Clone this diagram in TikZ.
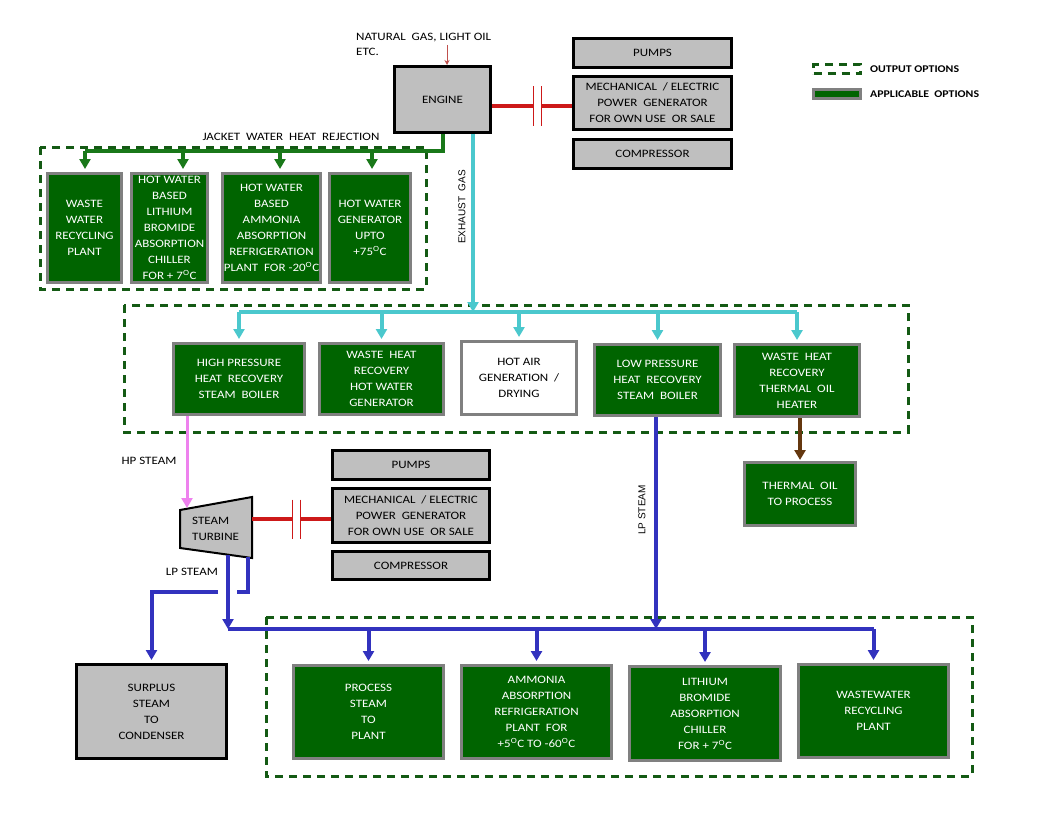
\documentclass[tikz,border=0pt]{standalone}
\usepackage{fontspec}
\setmainfont{Carlito}[FakeStretch=1.15]
\newfontfamily\arialfont{Liberation Sans}
\usetikzlibrary{arrows.meta}

\definecolor{boxgreen}{RGB}{0,100,0}
\definecolor{rimgray}{RGB}{128,128,128}
\definecolor{fillgray}{RGB}{191,191,191}
\definecolor{optgreen}{RGB}{20,90,20}
\definecolor{jwgreen}{RGB}{25,120,25}
\definecolor{exhcyan}{RGB}{75,200,205}
\definecolor{lpblue}{RGB}{50,50,190}
\definecolor{hpviolet}{RGB}{238,130,238}
\definecolor{oilbrown}{RGB}{100,55,15}
\definecolor{shaftred}{RGB}{205,25,25}
\definecolor{fuelred}{RGB}{192,80,77}

\begin{document}
\begin{tikzpicture}[x=1pt,y=-1pt,
    font=\fontsize{11.3}{16}\selectfont,
    tip/.style={-{Triangle[length=10pt,width=11pt]}},
    opt/.style={draw=optgreen,line width=3pt,dash pattern=on 8pt off 6pt},
    jwline/.style={draw=jwgreen,line width=4pt},
    exline/.style={draw=exhcyan,line width=4pt},
    lpline/.style={draw=lpblue,line width=4pt},
    hpline/.style={draw=hpviolet,line width=3pt},
    oilline/.style={draw=oilbrown,line width=4pt},
    shaft/.style={draw=shaftred,line width=4pt},
    cplg/.style={draw=shaftred,line width=1pt}]

  \useasboundingbox (0,0) rectangle (1056,816);

  % output option frames
  \draw[opt] (40,147) rectangle (426,289);
  \draw[opt] (124,305) rectangle (908,432);
  \draw[opt] (266,617) rectangle (972,776);

  \begin{scope}[every node/.style={draw=black,line width=3pt,fill=fillgray,align=center,inner sep=0pt}]
    \node (engine) [minimum width=96pt,minimum height=66pt] at (442.5,99.5) {ENGINE};
    \node (pumps1) [minimum width=158pt,minimum height=29pt] at (652.5,53) {PUMPS};
    \node (mech1) [minimum width=158pt,minimum height=53pt] at (652.5,103) {MECHANICAL\ \ / ELECTRIC\\POWER\ \ GENERATOR\\FOR OWN USE\ \ OR SALE};
    \node (comp1) [minimum width=158pt,minimum height=29pt] at (652.5,154) {COMPRESSOR};
    \node (pumps2) [minimum width=157pt,minimum height=29pt] at (411,465) {PUMPS};
    \node (mech2) [minimum width=157pt,minimum height=54pt] at (411,515.5) {MECHANICAL\ \ / ELECTRIC\\POWER\ \ GENERATOR\\FOR OWN USE\ \ OR SALE};
    \node (comp2) [minimum width=157pt,minimum height=28pt] at (411,565.5) {COMPRESSOR};
    \node (surplus) [minimum width=150pt,minimum height=94pt] at (151.5,711.5) {SURPLUS\\STEAM\\TO\\CONDENSER};
  \end{scope}

  \begin{scope}[every node/.style={draw=rimgray,line width=3pt,fill=boxgreen,text=white,align=center,inner sep=0pt}]
    % jacket water users
    \node (j1) [minimum width=74pt,minimum height=109pt] at (84.5,228) {WASTE\\WATER\\RECYCLING\\PLANT};
    \node (j2) [minimum width=76pt,minimum height=109pt] at (169.5,228) {HOT WATER\\BASED\\LITHIUM\\BROMIDE\\ABSORPTION\\CHILLER\\FOR + 7\textsuperscript{O}C};
    \node (j3) [minimum width=98pt,minimum height=109pt] at (271.5,228) {HOT WATER\\BASED\\AMMONIA\\ABSORPTION\\REFRIGERATION\\PLANT\ \ FOR -20\textsuperscript{O}C};
    \node (j4) [minimum width=81pt,minimum height=109pt] at (370,228) {HOT WATER\\GENERATOR\\UPTO\\+75\textsuperscript{O}C};
    % exhaust gas users
    \node (hp) [minimum width=131pt,minimum height=71pt] at (239,379) {HIGH PRESSURE\\HEAT\ \ RECOVERY\\STEAM\ \ BOILER};
    \node (whw) [minimum width=124pt,minimum height=71pt] at (381.5,379) {WASTE\ \ HEAT\\RECOVERY\\HOT WATER\\GENERATOR};
    \node (hotair) [minimum width=115pt,minimum height=73pt,fill=white,text=black] at (519,378) {HOT AIR\\GENERATION\ \ /\\DRYING};
    \node (lp) [minimum width=126pt,minimum height=71pt] at (657.5,380) {LOW PRESSURE\\HEAT\ \ RECOVERY\\STEAM\ \ BOILER};
    \node (toh) [minimum width=125pt,minimum height=72pt] at (797,380.5) {WASTE\ \ HEAT\\RECOVERY\\THERMAL\ \ OIL\\HEATER};
    \node (top) [minimum width=111pt,minimum height=63pt] at (800,494) {THERMAL\ \ OIL\\TO PROCESS};
    % lp steam users
    \node (process) [minimum width=150pt,minimum height=93pt] at (368.5,712) {PROCESS\\STEAM\\TO\\PLANT};
    \node (ammonia) [minimum width=150pt,minimum height=93pt] at (536.5,712) {AMMONIA\\ABSORPTION\\REFRIGERATION\\PLANT\ \ FOR\\+5\textsuperscript{O}C TO -60\textsuperscript{O}C};
    \node (libr) [minimum width=151pt,minimum height=94pt] at (705,713.5) {LITHIUM\\BROMIDE\\ABSORPTION\\CHILLER\\FOR + 7\textsuperscript{O}C};
    \node (wwr) [minimum width=150pt,minimum height=93pt] at (873.5,711) {WASTEWATER\\RECYCLING\\PLANT};
  \end{scope}

  % legend
  \node (keyout) [opt,minimum width=47pt,minimum height=9pt,inner sep=0pt] at (837,69) {};
  \node (keyapp) [draw=rimgray,line width=3pt,fill=boxgreen,minimum width=47pt,minimum height=9pt,inner sep=0pt] at (837,94) {};
  \node (keyoutlbl) [anchor=west,inner sep=0pt,font=\fontsize{10.3}{12}\selectfont\bfseries] at (870,69) {OUTPUT OPTIONS};
  \node (keyapplbl) [anchor=west,inner sep=0pt,font=\fontsize{10.3}{12}\selectfont\bfseries] at (870,94) {APPLICABLE\ \ OPTIONS};

  % steam turbine
  \draw[draw=black,line width=2pt,fill=fillgray] (180,510) -- (252,497) -- (252,558) -- (180,548) -- cycle;
  \node (turbine) [anchor=west,align=left,inner sep=0pt] at (192,529) {STEAM\\TURBINE};

  \coordinate (fuel) at (447,45);
  \coordinate (jw) at (443,151);
  \coordinate (eg) at (473,312);
  \coordinate (lpb) at (656,629);
  \coordinate (tin) at (187,508);
  \coordinate (tout) at (252,519);
  \coordinate (lpt1) at (228,555);
  \coordinate (lpt2) at (248,557);
  \coordinate (jmpR) at (237,592);
  \coordinate (jmpL) at (218,592);
  \coordinate (cpa) at (533,106);
  \coordinate (cpb) at (541,106);
  \coordinate (cpc) at (292,519);
  \coordinate (cpd) at (300,519);

  % labels
  \node (fuellbl) [anchor=west,align=left,inner sep=0pt,font=\fontsize{11.3}{15}\selectfont] at (356,44.5) {NATURAL\ \ GAS, LIGHT OIL\\ETC.};
  \node (jwlbl) [inner sep=0pt] at (291,137) {JACKET\ \ WATER\ \ HEAT\ \ REJECTION};
  \node (eglbl) [inner sep=0pt,rotate=90,font=\arialfont\fontsize{10}{12}\selectfont] at (462,207) {EXHAUST\ \ GAS};
  \node (hplbl) [inner sep=0pt] at (149,461) {HP STEAM};
  \node (lplbl1) [inner sep=0pt] at (192,572) {LP STEAM};
  \node (lplbl2) [inner sep=0pt,rotate=90,font=\arialfont\fontsize{10}{12}\selectfont] at (642,510) {LP STEAM};

  % fuel in
  \draw[draw=fuelred,line width=1pt,-{Stealth[length=5pt,width=5pt]}] (fuel) -- (engine.north -| fuel);

  % jacket water
  \draw[jwline] (engine.south -| jw) -- (jw) -- (85,151);
  \foreach \b/\x in {j1/85,j2/183,j3/280,j4/372} {
    \coordinate (jd) at (\x,151);
    \draw[jwline,tip,shorten >=3pt] (jd) -- (jd |- \b.north);
  }

  % exhaust gas
  \draw[exline,tip] (engine.south -| eg) -- (eg);
  \draw[exline] (eg -| hp) -- (eg -| toh);
  \foreach \b in {hp,whw,hotair,lp,toh}
    \draw[exline,tip,shorten >=3pt] (eg -| \b) -- (\b.north);

  % thermal oil
  \draw[oilline,tip,shorten >=1pt] (toh.south -| top) -- (top.north);

  % hp steam
  \draw[hpline,tip] (hp.south -| tin) -- (tin);

  % lp steam
  \draw[lpline,tip] (lp.south -| lpb) -- (lpb);
  \draw[lpline,tip] (lpt1) -- (lpt1 |- lpb);
  \draw[lpline] (lpt1 |- lpb) -- (lpb -| wwr);
  \foreach \b in {process,ammonia,libr,wwr}
    \draw[lpline,tip,shorten >=3pt] (lpb -| \b) -- (\b.north);
  \draw[lpline] (lpt2) |- (jmpR);
  \draw[lpline,tip,shorten >=3pt] (jmpL) -| (surplus.north);

  % shafts and couplings
  \draw[shaft] (engine.east |- cpa) -- (cpa);
  \draw[shaft] (cpb) -- (mech1.west |- cpb);
  \draw[cplg] (cpa) ++(0,-20) -- ++(0,40);
  \draw[cplg] (cpb) ++(0,-20) -- ++(0,40);
  \draw[shaft] (tout) -- (cpc);
  \draw[shaft] (cpd) -- (mech2.west |- cpd);
  \draw[cplg] (cpc) ++(0,-19.5) -- ++(0,39);
  \draw[cplg] (cpd) ++(0,-19.5) -- ++(0,39);

\end{tikzpicture}
\end{document}
